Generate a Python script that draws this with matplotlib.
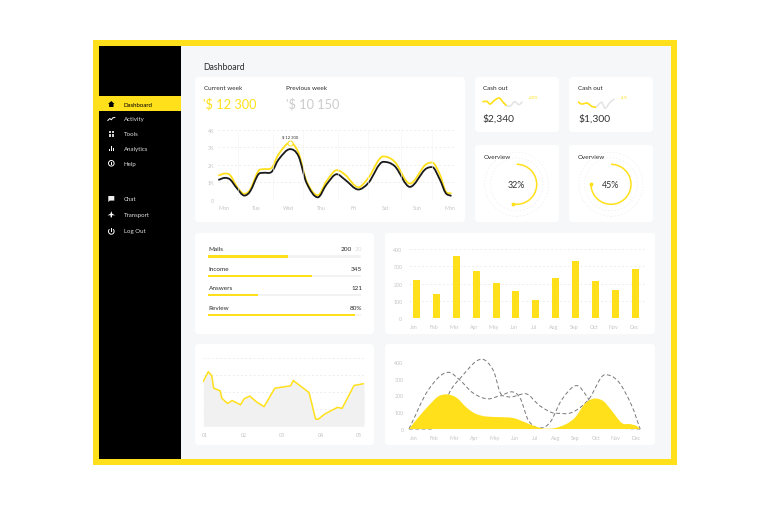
import numpy as np
import matplotlib
matplotlib.use('Agg')
import matplotlib.pyplot as plt
from matplotlib.path import Path
from matplotlib.patches import PathPatch, FancyBboxPatch, Rectangle, Circle, Arc, Polygon

plt.rcParams['font.family'] = ['Lato', 'DejaVu Sans']

YELLOW = '#ffe01a'
DARK = '#2b2b2b'
LIGHT = '#cccccc'
GRID = '#e8e8e8'
W, H = 768, 506

# dados do grafico da semana
days = ['Mon', 'Tue', 'Wed', 'Thu', 'Fri', 'Sat', 'Sun', 'Mon']
week_x = [-0.19, 0.02, 0.18, 0.38, 0.62, 0.80, 1.05, 1.21, 1.47, 1.68, 2.04, 2.30, 2.55, 2.90,
          3.17, 3.49, 3.74, 4.16, 4.47, 4.93, 5.29, 5.76, 6.23, 6.45, 6.69, 6.87, 7.05]
current_week = [1.38, 1.50, 1.40, 0.77, 0.33, 0.58, 1.63, 1.75, 1.83, 2.60, 3.27, 2.69, 1.06, 0.25,
                1.06, 1.69, 1.44, 0.71, 1.25, 2.48, 2.17, 0.92, 1.98, 2.13, 1.44, 0.48, 0.35]
previous_week = [1.13, 1.25, 1.15, 0.67, 0.23, 0.48, 1.44, 1.54, 1.60, 2.30, 2.90, 2.50, 0.96, 0.13,
                 0.87, 1.46, 1.15, 0.58, 0.96, 2.17, 1.92, 0.73, 1.73, 1.87, 1.15, 0.38, 0.21]
week_vlines = [0.41, 1.52, 2.45, 3.54, 4.47, 5.47, 6.45]

# barras
months = ['Jan', 'Feb', 'Mar', 'Apr', 'May', 'Jun', 'Jul', 'Aug', 'Sep', 'Oct', 'Nov', 'Dec']
bar_values = [223, 142, 361, 271, 202, 156, 104, 233, 329, 217, 163, 288]

# progresso
progress_names = ['Mails', 'Income', 'Answers', 'Review']
progress_values = ['200', '345', '121', '80%']
progress_fill = [0.525, 0.678, 0.328, 0.963]

# linha por trimestre
quarters = ['01', '02', '03', '04', '05']
q_x = [-0.05, 0.08, 0.17, 0.22, 0.39, 0.43, 0.58, 0.70, 0.92, 1.01, 1.16, 1.34, 1.53, 1.81, 2.22,
       2.29, 2.70, 2.87, 2.94, 3.11, 3.44, 3.56, 3.87, 4.13]
q_y = [2.64, 3.20, 2.95, 2.23, 2.08, 1.65, 1.34, 1.51, 1.26, 1.61, 1.77, 1.42, 1.15, 2.23, 2.37,
       2.68, 1.98, 0.43, 0.41, 0.72, 1.11, 1.05, 2.39, 2.50]

# area e tracejadas
area_x = [-0.23, 0.23, 0.73, 1.22, 1.63, 2.13, 2.62, 3.04, 3.53, 4.19, 4.93, 5.51, 6.09, 6.5, 7.0,
          7.57, 7.99, 8.48, 8.98, 9.39, 9.8, 10.3, 10.71, 11.04, 11.2]
area_y = [0, 69, 137, 194, 206, 185, 127, 92, 75, 71, 65, 40, 12, 2, 6, 31, 69, 152, 181, 165, 108,
          35, 29, 17, 0]
dash1_x = [-0.23, 0.89, 1.3, 1.72, 2.29, 3.37, 3.94, 4.36, 4.82, 5.26, 5.68, 6.25, 6.75, 7.33, 8.07,
           8.56, 9.14, 10.13, 11.2]
dash1_y = [0, 0, 40, 204, 300, 415, 348, 204, 221, 185, 50, 6, 40, 175, 258, 194, 70, 10, 0]
dash2_x = [-0.23, 0.73, 1.72, 2.29, 2.95, 3.7, 4.36, 4.77, 5.51, 6.25, 7.0, 7.82, 8.65, 9.47, 10.13,
           10.79, 11.2]
dash2_y = [0, 233, 337, 290, 213, 179, 198, 190, 210, 137, 94, 98, 175, 323, 281, 137, 0]

# minigraficos
spark1_x = [0, 13, 23, 38, 51, 63, 73]
spark1_y = [22, 23, 15, 27, 33, 20, 10]
spark1_gx = [63, 73, 83, 98, 111, 121]
spark1_gy = [20, 10, 8, 22, 13, 22]
spark2_x = [0, 12, 27, 42, 55]
spark2_y = [22, 15, 18, 8, 5]
spark2_gx = [55, 72, 82, 97, 110]
spark2_gy = [5, 20, 2, 20, 30]

overview_pct = ['32%', '45%']
overview_sweep = [190, 270]

menu_top = ['Dashboard', 'Activity', 'Tools', 'Analytics', 'Help']
menu_top_y = [105, 119.7, 134.7, 149.7, 164.3]
menu_bottom = ['Chat', 'Transport', 'Log Out']
menu_bottom_y = [199.7, 215.7, 232]


def smooth(x, y, close_to=None):
    # curva suave passando pelos pontos lidos (bezier), tangente zero nos picos
    x = np.array(x, float)
    y = np.array(y, float)
    n = len(x)
    m = np.zeros(n)
    for i in range(1, n - 1):
        if (y[i] - y[i - 1]) * (y[i + 1] - y[i]) > 0:
            m[i] = (y[i + 1] - y[i - 1]) / (x[i + 1] - x[i - 1])
    m[0] = (y[1] - y[0]) / (x[1] - x[0])
    m[-1] = (y[-1] - y[-2]) / (x[-1] - x[-2])
    verts = [(x[0], y[0])]
    codes = [Path.MOVETO]
    for i in range(n - 1):
        h = x[i + 1] - x[i]
        verts += [(x[i] + h / 3, y[i] + m[i] * h / 3), (x[i + 1] - h / 3, y[i + 1] - m[i + 1] * h / 3),
                  (x[i + 1], y[i + 1])]
        codes += [Path.CURVE4] * 3
    if close_to is not None:
        verts += [(x[-1], close_to), (x[0], close_to), (x[0], close_to)]
        codes += [Path.LINETO, Path.LINETO, Path.CLOSEPOLY]
    return Path(verts, codes)


def sub_ax(x0, y0, x1, y1):
    # eixo posicionado em pixels da figura
    ax = fig.add_axes([x0 / W, 1 - y1 / H, (x1 - x0) / W, (y1 - y0) / H])
    ax.patch.set_alpha(0)
    for s in ax.spines.values():
        s.set_visible(False)
    ax.tick_params(length=0, labelsize=3.8, labelcolor='#c4c4c4', pad=4)
    return ax


def card(x0, y0, x1, y1):
    bg.add_patch(FancyBboxPatch((x0 + 4, y0 + 4), x1 - x0 - 8, y1 - y0 - 8, boxstyle='round,pad=4,rounding_size=4',
                                fc='white', ec='none'))


def txt(x, y, s, size=4.6, color=DARK, ha='left', **kw):
    bg.text(x, y, s, fontsize=size, color=color, ha=ha, va='center', **kw)


fig = plt.figure(figsize=(W / 100, H / 100), dpi=100, facecolor='white')
bg = fig.add_axes([0, 0, 1, 1])
bg.set_xlim(0, W)
bg.set_ylim(H, 0)
bg.axis('off')

# moldura, menu lateral e fundo
bg.add_patch(Rectangle((93, 41), 584, 425, fc=YELLOW, ec='none'))
bg.add_patch(Rectangle((181, 47), 490, 413, fc='#f6f7f9', ec='none'))
bg.add_patch(Rectangle((99, 47), 82, 413, fc='black', ec='none'))
bg.add_patch(Rectangle((99, 97.3), 82, 15, fc=YELLOW, ec='none'))

for i, (name, y) in enumerate(zip(menu_top, menu_top_y)):
    txt(123.7, y, name, 4.4, 'black' if i == 0 else '#dcdcdc')
for name, y in zip(menu_bottom, menu_bottom_y):
    txt(123.7, y, name, 4.4, '#dcdcdc')

# icones
ix = 111.3
bg.add_patch(Polygon([(ix - 3.2, 105), (ix, 102), (ix + 3.2, 105), (ix + 2.2, 105), (ix + 2.2, 108),
                      (ix - 2.2, 108), (ix - 2.2, 105)], fc='black', ec='none'))
bg.plot([ix - 3.5, ix - 1.5, ix, ix + 1.5, ix + 3.5], [121.5, 119.5, 120.8, 118.8, 118.5], color='white', lw=0.7)
for dx in (-2.8, 0.3):
    for dy in (-2.8, 0.3):
        bg.add_patch(Rectangle((ix + dx, 134.7 + dy), 2.5, 2.5, fc='#cfcfcf', ec='none'))
for dx, h in ((-2.8, 2.5), (-0.7, 5), (1.4, 3.2)):
    bg.add_patch(Rectangle((ix + dx, 152.4 - h), 1.3, h, fc='white', ec='none'))
bg.add_patch(Circle((ix, 164.3), 2.8, fc='none', ec='white', lw=0.7))
bg.plot([ix, ix], [163, 165.2], color='white', lw=0.7)
bg.add_patch(Polygon([(ix - 3, 197), (ix + 3, 197), (ix + 3, 201.6), (ix - 1.5, 201.6), (ix - 3, 203)],
                     fc='#eeeeee', ec='none'))
bg.add_patch(Polygon([(ix, 212), (ix + 0.8, 214.6), (ix + 3.8, 216.4), (ix + 0.8, 216.2), (ix + 0.6, 218.4),
                      (ix - 0.6, 218.4), (ix - 0.8, 216.2), (ix - 3.8, 216.4), (ix - 0.8, 214.6)],
                     fc='white', ec='none'))
bg.add_patch(Arc((ix, 232.4), 5.6, 5.6, theta1=-50, theta2=230, ec='white', lw=0.7))
bg.plot([ix, ix], [229, 232], color='white', lw=0.7)

# cartoes
card(195, 78, 465, 223)
card(475, 78, 559, 133)
card(569, 78, 653, 133)
card(475, 146, 559, 223)
card(569, 146, 653, 223)
card(195, 234, 374, 335)
card(385, 234, 655, 335)
card(195, 345, 374, 446)
card(385, 345, 655, 446)

txt(203.5, 67, 'Dashboard', 6.2)
txt(203.5, 88, 'Current week')
txt(286.5, 88, 'Previous week')
txt(203, 104.5, "'$ 12 300", 9.2, YELLOW)
txt(286, 104.5, "'$ 10 150", 9.2, LIGHT)

# grafico da semana
ax = sub_ax(218.3, 131, 455, 200.6)
ax.set_xlim(-0.19, 7.16)
ax.set_ylim(0, 4)
ax.set_yticks([0, 1, 2, 3, 4])
ax.set_yticklabels(['0', '1K', '2K', '3K', '4K'])
ax.set_xticks(range(8))
ax.set_xticklabels(days)
ax.tick_params(axis='y', pad=3)
ax.grid(axis='y', color=GRID, lw=0.5, ls=(0, (3, 3)))
ax.vlines(week_vlines, 0, 4, color='#f4f4f4', lw=0.4)
ax.set_axisbelow(True)
ax.add_patch(PathPatch(smooth(week_x, current_week), fill=False, ec=YELLOW, lw=1.3, clip_on=False))
ax.add_patch(PathPatch(smooth(week_x, previous_week), fill=False, ec='#1a1a1a', lw=1.3, clip_on=False))
ax.plot([week_x[10]], [current_week[10]], 'o', ms=3.6, mfc='white', mec=YELLOW, mew=0.7)
ax.text(week_x[10], 3.62, '$ 12 300', fontsize=3, color=DARK, ha='center', va='center')

# cash out
txt(482.7, 88.3, 'Cash out')
txt(578, 88.3, 'Cash out')
txt(482.7, 119.3, '$2,340', 7.4, '#333333')
txt(578, 119.3, '$1,300', 7.4, '#333333')
txt(527.5, 98.3, '+20%', 3, YELLOW)
txt(619.5, 98.3, '+1%', 3, YELLOW)
sp = sub_ax(482.3, 95, 525, 110)
sp.set_xlim(0, 129)
sp.set_ylim(0, 45)
sp.set_xticks([])
sp.set_yticks([])
sp.add_patch(PathPatch(smooth(spark1_gx, spark1_gy), fill=False, ec='#e3e3e3', lw=1.1))
sp.add_patch(PathPatch(smooth(spark1_x, spark1_y), fill=False, ec=YELLOW, lw=1.2))
sp = sub_ax(577.7, 95, 620.7, 110)
sp.set_xlim(0, 129)
sp.set_ylim(0, 45)
sp.set_xticks([])
sp.set_yticks([])
sp.add_patch(PathPatch(smooth(spark2_gx, spark2_gy), fill=False, ec='#e3e3e3', lw=1.1))
sp.add_patch(PathPatch(smooth(spark2_x, spark2_y), fill=False, ec=YELLOW, lw=1.2))

# overview
for cx, pct, sweep, lx in zip([516.7, 611], overview_pct, overview_sweep, [484, 578]):
    rg = sub_ax(cx - 36, 185.3 - 36, cx + 36, 185.3 + 36)
    rg.set_xlim(-36, 36)
    rg.set_ylim(-36, 36)
    rg.set_xticks([])
    rg.set_yticks([])
    rg.add_patch(Circle((0, 0), 32, fc='none', ec='#ececec', lw=0.4, ls=(0, (3, 3))))
    rg.add_patch(Circle((0, 0), 26.5, fc='none', ec='#ececec', lw=0.4, ls=(0, (3, 3))))
    rg.add_patch(Arc((0, 0), 40, 40, theta1=90 - sweep, theta2=90, ec=YELLOW, lw=1.1))
    a = np.deg2rad(90 - sweep)
    rg.plot([20 * np.cos(a)], [20 * np.sin(a)], 'o', ms=1.8, color=YELLOW)
    rg.text(0, 0, pct, fontsize=6.4, color='#333333', ha='center', va='center')
    txt(lx, 157, 'Overview')

# progresso
pr = sub_ax(208.3, 248, 360.7, 320)
pr.set_xlim(0, 1)
pr.set_ylim(72, 0)
pr.set_xticks([])
pr.set_yticks([])
row_y = [9.3, 28.7, 48, 67.7]
pr.barh(row_y, [1] * 4, height=2.4, color='#f3f3f3')
pr.barh(row_y, progress_fill, height=2.4, color=YELLOW)
for name, val, y in zip(progress_names, progress_values, [249.3, 269.3, 288.7, 308.3]):
    txt(208.5, y, name)
    txt(362 if name != 'Mails' else 352, y, val, ha='right')
txt(354.5, 249.3, '20', 4.6, '#dddddd')

# barras
br = sub_ax(409.3, 250.3, 645, 319)
br.set_xlim(-0.35, 11.47)
br.set_ylim(0, 400)
br.set_yticks([0, 100, 200, 300, 400])
br.set_xticks(np.arange(12) - 0.1)
br.set_xticklabels(months)
br.tick_params(axis='y', pad=5)
br.grid(axis='y', color=GRID, lw=0.5, ls=(0, (3, 3)))
br.set_axisbelow(True)
br.bar(range(12), bar_values, width=0.117 * 3, color=YELLOW)
br.axhline(0, color='#f2f2f2', lw=0.5)

# linha por trimestre
ql = sub_ax(203.3, 359, 364, 427.3)
ql.set_xlim(-0.05, 4.13)
ql.set_ylim(0, 4)
ql.set_yticks([0, 1, 2, 3, 4])
ql.set_yticklabels([])
ql.set_xticks(range(5))
ql.set_xticklabels(quarters)
ql.grid(axis='y', color=GRID, lw=0.5, ls=(0, (3, 3)))
ql.set_axisbelow(True)
ql.fill_between(q_x, q_y, 0, color='#f1f1f1', lw=0)
ql.plot(q_x, q_y, color=YELLOW, lw=1.1)

# area
ar = sub_ax(409, 362.7, 645, 430)
ar.set_xlim(-0.23, 11.44)
ar.set_ylim(0, 400)
ar.set_yticks([0, 100, 200, 300, 400])
ar.set_xticks(range(12))
ar.set_xticklabels(months)
ar.add_patch(PathPatch(smooth(dash1_x, dash1_y), fill=False, ec='#777777', lw=0.7, ls=(0, (4, 2.5)), clip_on=False))
ar.add_patch(PathPatch(smooth(dash2_x, dash2_y), fill=False, ec='#777777', lw=0.7, ls=(0, (4, 2.5)), clip_on=False))
ar.add_patch(PathPatch(smooth(area_x, area_y, close_to=0), fc=YELLOW, ec='none'))

fig.savefig('out.png', dpi=100)
